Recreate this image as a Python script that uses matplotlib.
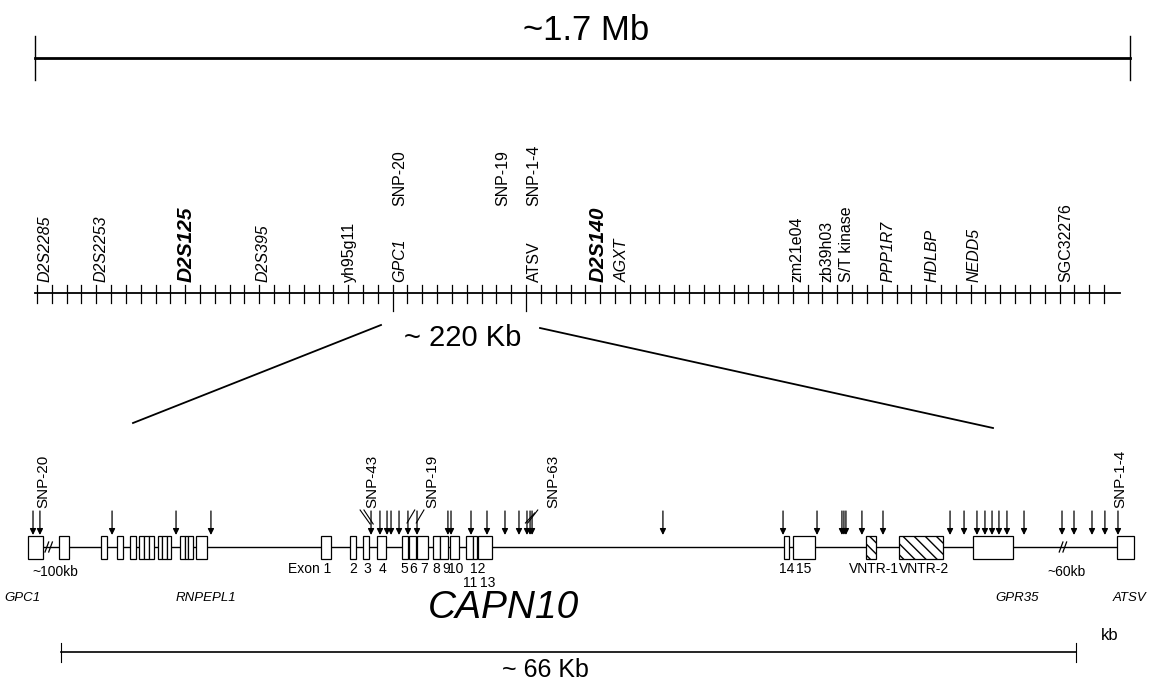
import numpy as np
import matplotlib.pyplot as plt
from matplotlib.patches import Rectangle

plt.rcParams['font.family'] = ['Liberation Sans', 'DejaVu Sans']

# top overview
region_mb = 1.7

# marker map, positions in ruler tick units
n_ticks = 73
long_ticks = [24, 33]
markers = ["D2S2285", "D2S2253", "D2S125", "D2S395", "yh95g11", "GPC1", "ATSV",
           "D2S140", "AGXT", "zm21e04", "zb39h03", "S/T kinase", "PPP1R7", "HDLBP",
           "NEDD5", "SGC32276"]
marker_pos = [0.55, 4.3, 10.05, 15.25, 21.1, 24.5, 33.6, 37.85, 39.5, 51.3, 53.3,
              54.65, 57.4, 60.4, 63.2, 69.4]
marker_kind = ["i", "i", "bi", "i", "n", "i", "n", "bi", "i", "n", "n", "n", "i",
               "i", "i", "n"]
snp_map = ["SNP-20", "SNP-19", "SNP-1-4"]
snp_map_pos = [24.5, 31.4, 33.5]

# gene track, positions in kb along the 66 kb scale
track_span_kb = 66
exon_start = [-2.15, -0.13, 2.6, 3.64, 4.49, 5.07, 5.4, 5.72, 6.31, 6.57, 6.89, 7.74,
              8.06, 8.26, 8.78,
              16.91, 18.79, 19.64, 20.55, 22.17, 22.63, 23.15, 24.19, 24.64, 25.29,
              26.33, 26.79, 27.11, 47.01, 47.6, 59.3, 68.66]
exon_end = [-1.17, 0.52, 2.99, 4.03, 4.88, 5.4, 5.72, 6.05, 6.57, 6.89, 7.15, 8.06,
            8.26, 8.58, 9.49,
            17.56, 19.18, 20.03, 21.13, 22.56, 23.08, 23.86, 24.64, 25.16, 25.88,
            26.79, 27.05, 28.02, 47.34, 49.03, 61.9, 69.77]
vntr_start = [52.34, 54.49]
vntr_end = [52.99, 57.35]
vntr_names = ["VNTR-1", "VNTR-2"]
snp_kb = [-1.82, -1.37, 3.32, 7.48, 9.75, 20.16, 20.74, 21.2, 21.46, 21.98, 22.56,
          23.15, 25.16, 25.36, 26.66, 27.7, 28.87, 29.78, 30.3, 30.5, 30.63, 39.14,
          46.95, 49.16, 50.78, 50.91, 51.04, 52.08, 53.45, 57.81, 58.72, 59.56,
          60.08, 60.54, 60.99, 61.51, 62.62, 65.09, 65.87, 67.04, 67.88, 68.73]
snp_names = ["SNP-20", "SNP-43", "SNP-19", "SNP-63", "SNP-1-4"]
snp_name_kb = [-1.17, 20.22, 24.12, 32.0, 68.87]
exon_labels = ["2", "3", "4", "5", "6", "7", "8", "9", "10", "12", "11", "13", "14", "15"]
exon_label_kb = [18.99, 19.9, 20.9, 22.3, 22.9, 23.6, 24.4, 25.03, 25.69, 27.1, 26.6,
                 27.76, 47.2, 48.3]
exon_label_row = [0, 0, 0, 0, 0, 0, 0, 0, 0, 0, 1, 1, 0, 0]
genes = ["GPC1", "RNPEPL1", "GPR35", "ATSV"]
gene_kb = [-2.5, 9.4, 62.2, 69.5]
breaks_kb = [-0.8, 65.15]
break_notes = ["~100kb", "~60kb"]
break_note_kb = [-0.4, 65.4]

fig = plt.figure(figsize=(11.52, 6.81), dpi=100)


def band(px0, px_per_unit):
    a = fig.add_axes([0, 0, 1, 1])
    a.set_xlim(-px0 / px_per_unit, (1152 - px0) / px_per_unit)
    a.set_ylim(681, 0)
    a.axis('off')
    a.patch.set_alpha(0)
    return a


# ---- top bar ----
ax0 = band(35, 1095 / region_mb)
ax0.plot([0, region_mb], [58, 58], color='black', lw=2)
for x in [0, region_mb]:
    ax0.plot([x, x], [36, 80], color='black', lw=1)
ax0.text(region_mb / 2 + 0.005, 30, "~1.7 Mb", ha='center', va='center', fontsize=25)

# ---- marker ruler ----
ax1 = band(37, 14.82)
ax1.plot([-0.15, n_ticks + 0.1], [293, 293], color='black', lw=1.3)
for i in range(n_ticks):
    bottom = 311 if i in long_ticks else 303
    ax1.plot([i, i], [285, bottom], color='black', lw=0.9)
for name, p, k in zip(markers, marker_pos, marker_kind):
    if k == "bi":
        ax1.text(p, 282, name, rotation=90, ha='center', va='bottom', fontsize=15,
                 fontweight='bold', fontstyle='italic')
    else:
        ax1.text(p, 282, name, rotation=90, ha='center', va='bottom', fontsize=11.5,
                 fontstyle='italic' if k == "i" else 'normal')
for name, p in zip(snp_map, snp_map_pos):
    ax1.text(p, 206, name, rotation=90, ha='center', va='bottom', fontsize=11.5)
ax1.text(28.7, 338, "~ 220 Kb", ha='center', va='center', fontsize=21)

# zoom lines (figure pixel space)
axp = band(0, 1)
axp.plot([381, 133], [325, 423], color='black', lw=1.3)
axp.plot([540, 993], [328, 428], color='black', lw=1.3)

# ---- gene track ----
ax2 = band(61, 1015 / track_span_kb)
y0 = 547
ax2.plot([exon_end[0], exon_start[-1]], [y0, y0], color='black', lw=1, zorder=1)
for s, e in zip(exon_start, exon_end):
    ax2.add_patch(Rectangle((s, y0 - 11.5), e - s, 23, facecolor='white',
                            edgecolor='black', lw=0.9, zorder=2))
for s, e in zip(vntr_start, vntr_end):
    ax2.add_patch(Rectangle((s, y0 - 11.5), e - s, 23, facecolor='white',
                            edgecolor='black', lw=0.9, hatch='\\\\\\', zorder=2))
for b in breaks_kb:
    for d in [-0.12, 0.12]:
        ax2.plot([b + d - 0.12, b + d + 0.12], [y0 + 5, y0 - 5], color='black',
                 lw=0.9, zorder=3)
for x in snp_kb:
    ax2.annotate('', xy=(x, 535), xytext=(x, 511),
                 arrowprops=dict(arrowstyle='-|>', color='black', lw=0.9,
                                 mutation_scale=9, shrinkA=0, shrinkB=0))
for name, p in zip(snp_names, snp_name_kb):
    ax2.text(p, 508, name, rotation=90, ha='center', va='bottom', fontsize=11)
# leader lines from labels to arrows
ax2.plot([19.45, 20.1], [510, 524], color='black', lw=0.8)
ax2.plot([19.7, 20.3], [510, 524], color='black', lw=0.8)
ax2.plot([23.0, 22.5], [510, 523], color='black', lw=0.8)
ax2.plot([23.6, 23.1], [510, 523], color='black', lw=0.8)
ax2.plot([31.0, 30.35], [510, 523], color='black', lw=0.8)
ax2.plot([30.8, 30.2], [513, 523], color='black', lw=0.8)

ax2.text(17.56, 569, "Exon 1", ha='right', va='center', fontsize=10)
for t, p, r in zip(exon_labels, exon_label_kb, exon_label_row):
    ax2.text(p, 569 + 14 * r, t, ha='center', va='center', fontsize=10)
ax2.text(vntr_start[1], 569, vntr_names[0], ha='right', va='center', fontsize=10)
ax2.text(vntr_start[1], 569, vntr_names[1], ha='left', va='center', fontsize=10)
for t, p in zip(break_notes, break_note_kb):
    ax2.text(p, 572, t, ha='center', va='center', fontsize=10)
for g, p in zip(genes, gene_kb):
    ax2.text(p, 598, g, ha='center', va='center', fontsize=9.5, fontstyle='italic')
ax2.text(28.8, 608, "CAPN10", ha='center', va='center', fontsize=28,
         fontstyle='italic')

# bottom scale
ax2.plot([0, track_span_kb], [652, 652], color='black', lw=1.2)
for x in [0, track_span_kb]:
    ax2.plot([x, x], [643, 662], color='black', lw=0.8)
ax2.text(68.2, 636, "kb", ha='center', va='center', fontsize=12)
ax2.text(31.5, 670, "~ 66 Kb", ha='center', va='center', fontsize=18)

fig.savefig("out.png", dpi=100, facecolor='white')
